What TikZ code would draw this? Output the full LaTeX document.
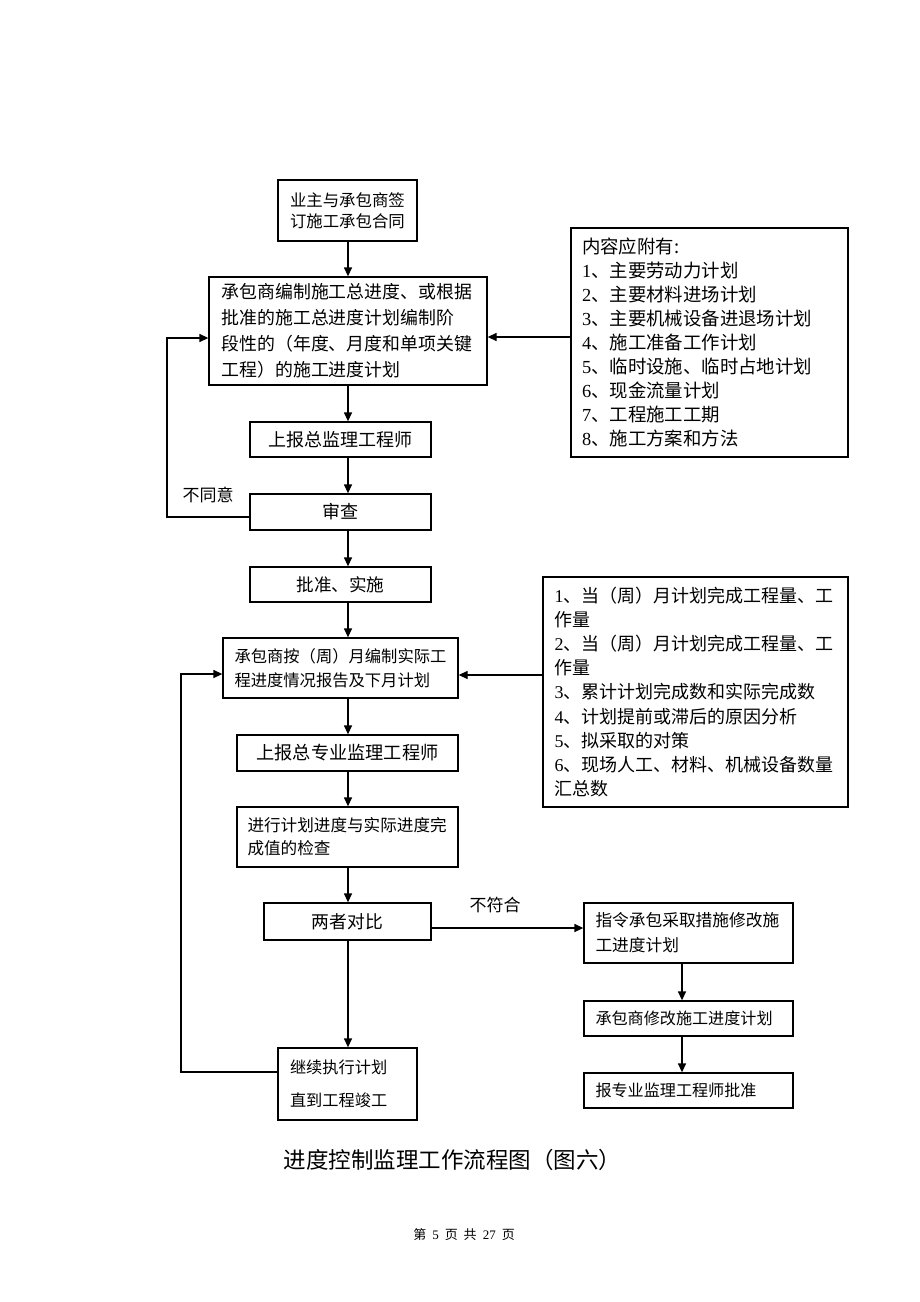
\documentclass[tikz,border=0pt]{standalone}
\usepackage{fontspec}
\setmainfont{Noto Sans CJK SC}
\newfontfamily\tms{Liberation Serif}
\usetikzlibrary{arrows.meta,calc}
\tikzset{
  box/.style={draw=black, line width=1.3pt, rectangle, inner sep=0pt, fill=white},
  arr/.style={line width=1.3pt, -{Triangle[length=9pt,width=8pt]}},
  lbl/.style={inner sep=0pt}
}
\newcommand{\fs}[2]{\fontsize{#1}{#2}\selectfont}
\begin{document}
\begin{tikzpicture}[x=1pt,y=-1pt]
\useasboundingbox (0,0) rectangle (920,1302);
\fill[white] (0,0) rectangle (920,1302);
\coordinate (mx) at (348,0);
\coordinate (rx) at (682,0);
% main column
\node[box, minimum width=139pt, minimum height=61pt, text width=115pt, align=left, font=\fs{16.4}{21}] (b1) at (347.5,210.5) {业主与承包商签\\订施工承包合同};
\node[box, minimum width=278pt, minimum height=108pt, text width=253pt, align=left, font=\fs{17.9}{26}] (b2) at (348,331) {承包商编制施工总进度、或根据\\批准的施工总进度计划编制阶\\段性的（年度、月度和单项关键\\工程）的施工进度计划};
\node[box, minimum width=181pt, minimum height=35pt, font=\fs{18}{22}] (b3) at (340.5,439.5) {上报总监理工程师};
\node[box, minimum width=181pt, minimum height=36pt, font=\fs{18}{22}] (b4) at (340.5,512) {审查};
\node[box, minimum width=181pt, minimum height=35pt, font=\fs{17.6}{22}] (b5) at (340.5,584.5) {批准、实施};
\node[box, minimum width=235pt, minimum height=60pt, text width=212pt, align=left, font=\fs{16.3}{24}] (b6) at (340.5,668) {承包商按（周）月编制实际工\\程进度情况报告及下月计划};
\node[box, minimum width=221pt, minimum height=36pt, font=\fs{18.2}{22}] (b7) at (347.5,753) {上报总专业监理工程师};
\node[box, minimum width=221pt, minimum height=60pt, text width=200pt, align=left, font=\fs{16.6}{23}] (b8) at (347.5,837) {进行计划进度与实际进度完\\成值的检查};
\node[box, minimum width=167pt, minimum height=37pt, font=\fs{17.8}{22}] (b9) at (347.5,921.5) {两者对比};
\node[box, minimum width=139pt, minimum height=72pt, text width=115pt, align=left, font=\fs{16.2}{33}] (b10) at (347.5,1084) {继续执行计划\\直到工程竣工};
% right side
\node[box, minimum width=277pt, minimum height=229pt, text width=255pt, align=left, font=\fs{18.4}{24}] (r1) at (709.5,342.5) {内容应附有:\\{\tms 1}、主要劳动力计划\\{\tms 2}、主要材料进场计划\\{\tms 3}、主要机械设备进退场计划\\{\tms 4}、施工准备工作计划\\{\tms 5}、临时设施、临时占地计划\\{\tms 6}、现金流量计划\\{\tms 7}、工程施工工期\\{\tms 8}、施工方案和方法};
\node[box, minimum width=305pt, minimum height=230pt, text width=282pt, align=left, font=\fs{18}{24.2}] (r2) at (695.5,692) {{\tms 1}、当（周）月计划完成工程量、工\\作量\\{\tms 2}、当（周）月计划完成工程量、工\\作量\\{\tms 3}、累计计划完成数和实际完成数\\{\tms 4}、计划提前或滞后的原因分析\\{\tms 5}、拟采取的对策\\{\tms 6}、现场人工、材料、机械设备数量\\汇总数};
\node[box, minimum width=209pt, minimum height=60pt, text width=186pt, align=left, font=\fs{16.7}{25}] (r3) at (688.5,933) {指令承包采取措施修改施\\工进度计划};
\node[box, minimum width=209pt, minimum height=35pt, text width=186pt, align=left, font=\fs{16.1}{22}] (r4) at (688.5,1018.5) {承包商修改施工进度计划};
\node[box, minimum width=209pt, minimum height=35pt, text width=186pt, align=left, font=\fs{16.1}{22}] (r5) at (688.5,1090.5) {报专业监理工程师批准};
% vertical arrows main column
\draw[arr] (b1.south -| mx) -- (b2.north -| mx);
\draw[arr] (b2.south -| mx) -- (b3.north -| mx);
\draw[arr] (b3.south -| mx) -- (b4.north -| mx);
\draw[arr] (b4.south -| mx) -- (b5.north -| mx);
\draw[arr] (b5.south -| mx) -- (b6.north -| mx);
\draw[arr] (b6.south -| mx) -- (b7.north -| mx);
\draw[arr] (b7.south -| mx) -- (b8.north -| mx);
\draw[arr] (b8.south -| mx) -- (b9.north -| mx);
\draw[arr] (b9.south -| mx) -- (b10.north -| mx);
% right column arrows
\draw[arr] (r3.south -| rx) -- (r4.north -| rx);
\draw[arr] (r4.south -| rx) -- (r5.north -| rx);
% loops
\coordinate (l1) at (167,517);
\coordinate (l1t) at (167,338);
\draw[arr] (b4.west |- l1) -- (l1) -- (l1t) -- (b2.west |- l1t);
\node[lbl, font=\fs{17}{20}] (n1) at (208,495) {不同意};
\coordinate (l2) at (181,1072);
\coordinate (l2t) at (181,674);
\draw[arr] (b10.west |- l2) -- (l2) -- (l2t) -- (b6.west |- l2t);
% side inputs
\coordinate (s1) at (0,337);
\draw[arr] (r1.west |- s1) -- (b2.east |- s1);
\coordinate (s2) at (0,675);
\draw[arr] (r2.west |- s2) -- (b6.east |- s2);
\coordinate (s3) at (0,928);
\draw[arr] (b9.east |- s3) -- (r3.west |- s3);
\node[lbl, font=\fs{17}{20}] (n2) at (495,905) {不符合};
% captions
\node[lbl, font=\fs{22.5}{26}] (title) at (452.5,1160) {进度控制监理工作流程图（图六）};
\node[lbl, font=\fs{13}{15}] (foot) at (464,1235) {第\hspace{6pt}{\tms 5}\hspace{6pt}页\hspace{6pt}共\hspace{6pt}{\tms 27}\hspace{6pt}页};
\end{tikzpicture}
\end{document}
